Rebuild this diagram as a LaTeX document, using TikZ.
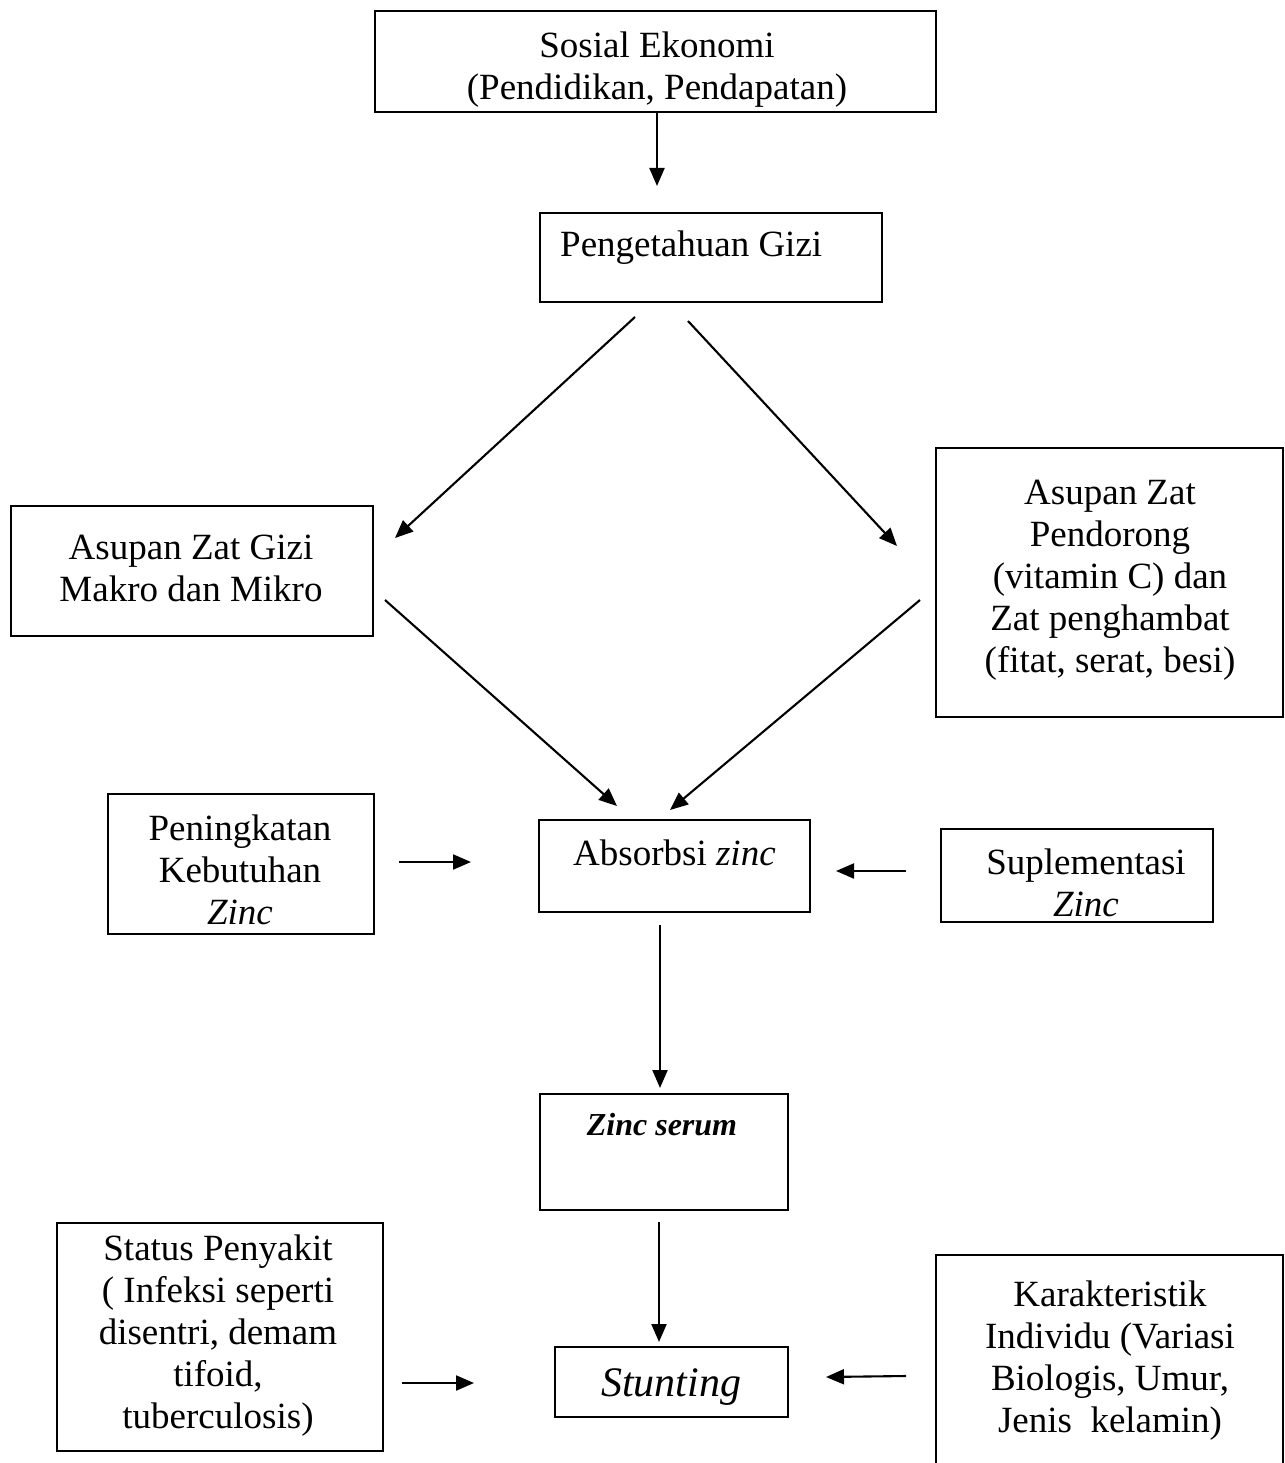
\documentclass[tikz,border=0pt]{standalone}
\usepackage{fontspec}
\setmainfont{Liberation Serif}
\usetikzlibrary{arrows.meta}
\tikzset{
 box/.style={draw, line width=1.8pt, inner sep=0pt, anchor=north west},
 txt/.style={font=\fontsize{37}{42}\selectfont, align=center, inner sep=0pt, anchor=north},
 arr/.style={line width=2.1pt, -{Triangle[length=18pt,width=15pt]}},
}
\begin{document}
\begin{tikzpicture}[x=1pt,y=-1pt]
\useasboundingbox (0,0) rectangle (1284,1463);
% boxes
\node[box, minimum width=561pt, minimum height=101pt] (se) at (374,10) {};
\node[box, minimum width=342pt, minimum height=89pt] (pg) at (539,212) {};
\node[box, minimum width=362pt, minimum height=130pt] (mk) at (10,505) {};
\node[box, minimum width=347pt, minimum height=269pt] (pd) at (935,447) {};
\node[box, minimum width=266pt, minimum height=140pt] (pk) at (107,793) {};
\node[box, minimum width=271pt, minimum height=92pt] (ab) at (538,819) {};
\node[box, minimum width=272pt, minimum height=93pt] (sz) at (940,828) {};
\node[box, minimum width=248pt, minimum height=116pt] (zs) at (539,1093) {};
\node[box, minimum width=326pt, minimum height=228pt] (sp) at (56,1222) {};
\node[box, minimum width=233pt, minimum height=70pt] (st) at (554,1346) {};
\node[box, minimum width=347pt, minimum height=225pt] (kr) at (935,1254) {};
% texts
\node[txt] (tse) at (657,27.6) {\strut Sosial Ekonomi\\(Pendidikan, Pendapatan)};
\node[txt, anchor=base west] (tpg) at (560,257) {Pengetahuan Gizi};
\node[txt] (tmk) at (191,529.6) {\strut Asupan Zat Gizi\\Makro dan Mikro};
\node[txt] (tpd) at (1110,474.6) {\strut Asupan Zat\\Pendorong\\(vitamin C) dan\\Zat penghambat\\(fitat, serat, besi)};
\node[txt] (tpk) at (240,810.6) {\strut Peningkatan\\Kebutuhan\\\textit{Zinc}};
\node[txt, anchor=base west] (tab) at (573,865) {Absorbsi \textit{zinc}};
\node[txt] (tsz) at (1086,844.6) {\strut Suplementasi\\\textit{Zinc}};
\node[txt, anchor=base, font=\fontsize{32}{38}\selectfont\bfseries\itshape] (tzs) at (662,1135) {Zinc serum};
\node[txt] (tsp) at (218,1230.6) {\strut Status Penyakit\\(\ Infeksi seperti\\disentri, demam\\tifoid,\\tuberculosis)};
\node[txt, anchor=base, font=\fontsize{42}{48}\selectfont\itshape] (tst) at (671,1396) {Stunting};
\node[txt] (tkr) at (1110,1276.6) {\strut Karakteristik\\Individu (Variasi\\Biologis, Umur,\\Jenis\ \ kelamin)};
% arrow end points
\coordinate (a1s) at (657,111); \coordinate (a1e) at (657,186);
\coordinate (a2s) at (635,317); \coordinate (a2e) at (395,538);
\coordinate (a3s) at (688,321); \coordinate (a3e) at (897,546);
\coordinate (a4s) at (385,600); \coordinate (a4e) at (617,806);
\coordinate (a5s) at (920,600); \coordinate (a5e) at (670,810);
\coordinate (a6s) at (399,862); \coordinate (a6e) at (471,862);
\coordinate (a7s) at (906,871); \coordinate (a7e) at (836,871);
\coordinate (a8s) at (660,925); \coordinate (a8e) at (660,1088);
\coordinate (a9s) at (659,1222); \coordinate (a9e) at (659,1342);
\coordinate (a10s) at (402,1383); \coordinate (a10e) at (474,1383);
\coordinate (a11s) at (906,1376); \coordinate (a11e) at (826,1377);
\draw[arr] (a1s) -- (a1e);
\draw[arr] (a2s) -- (a2e);
\draw[arr] (a3s) -- (a3e);
\draw[arr] (a4s) -- (a4e);
\draw[arr] (a5s) -- (a5e);
\draw[arr] (a6s) -- (a6e);
\draw[arr] (a7s) -- (a7e);
\draw[arr] (a8s) -- (a8e);
\draw[arr] (a9s) -- (a9e);
\draw[arr] (a10s) -- (a10e);
\draw[arr] (a11s) -- (a11e);
\end{tikzpicture}
\end{document}
